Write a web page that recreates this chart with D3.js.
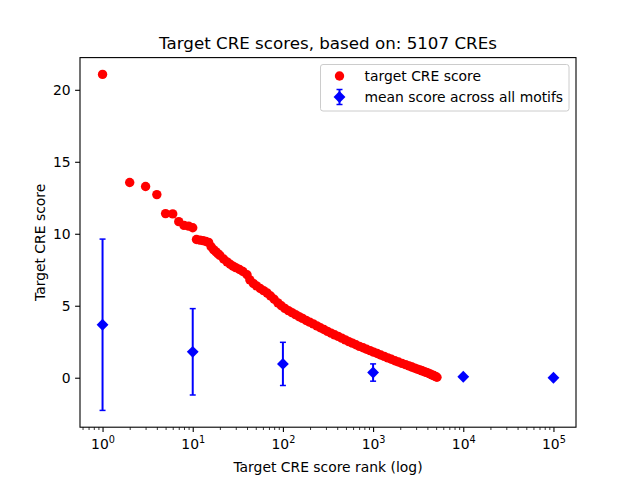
<!DOCTYPE html>
<html>
<head>
<meta charset="utf-8">
<script src="https://cdn.jsdelivr.net/npm/d3@7"></script>
<style>
  body { margin: 0; background: #fff; }
  text { font-family: "DejaVu Sans", sans-serif; fill: #000; }
</style>
</head>
<body>
<div id="chart"></div>
<script>
//--------------------------------------------------
// Datos
//--------------------------------------------------
const TITLE = "Target CRE scores, based on: 5107 CREs";
const X_LABEL = "Target CRE score rank (log)";
const Y_LABEL = "Target CRE score";

// rango de cada CRE y su score
const creRank = [
  1, 2, 3, 4, 5, 6, 7, 8, 9, 10,
  11, 12, 13, 14, 15, 16, 17, 18, 19, 20,
  22, 24, 26, 28, 30, 33, 36, 40, 43, 47,
  51, 56, 61, 67, 73, 80, 88, 96, 105, 115,
  126, 138, 151, 165, 181, 198, 217, 238, 260, 285,
  312, 342, 374, 410, 449, 492, 538, 589, 645, 706,
  773, 846, 926, 1014, 1110, 1215, 1330, 1456, 1594, 1745,
  1910, 2090, 2290, 2500, 2700, 2900, 3100, 3300, 3500, 3700,
  3900, 4100, 4300, 4500, 4700, 4900, 5107
];
const creScore = [
  21.07, 13.56, 13.28, 12.72, 11.40, 11.38, 10.84, 10.58, 10.53, 10.42,
  9.60, 9.56, 9.52, 9.46, 9.40, 9.10, 8.90, 8.76, 8.62, 8.50,
  8.25, 8.05, 7.88, 7.75, 7.65, 7.52, 7.38, 7.15, 6.80, 6.55,
  6.38, 6.20, 6.05, 5.88, 5.68, 5.45, 5.20, 5.00, 4.82, 4.66,
  4.52, 4.38, 4.24, 4.12, 3.98, 3.86, 3.74, 3.60, 3.47, 3.35,
  3.22, 3.10, 2.98, 2.87, 2.75, 2.63, 2.51, 2.40, 2.29, 2.18,
  2.08, 1.98, 1.88, 1.78, 1.68, 1.58, 1.48, 1.38, 1.28, 1.18,
  1.09, 1.00, 0.91, 0.82, 0.74, 0.67, 0.60, 0.54, 0.48, 0.42,
  0.37, 0.31, 0.26, 0.20, 0.15, 0.09, 0.03
];

// media por motivos, con su error
const meanRank = [1, 10, 100, 1000, 10000, 100000];
const meanScore = [3.68, 1.80, 0.96, 0.36, 0.07, 0.00];
const meanErr = [5.95, 3.00, 1.50, 0.60, 0.04, 0.00];

const xMajor = [1, 10, 100, 1000, 10000, 100000];
const yTicks = [0, 5, 10, 15, 20];
const legendLabels = ["target CRE score", "mean score across all motifs"];

//--------------------------------------------------
// Estilo
//--------------------------------------------------
const W = 640, H = 480;
const M = { left: 80, right: 576, top: 57.6, bottom: 427.2 };
const RED = "#ff0000";
const BLUE = "#0000ff";
const FS = 13.9;

const svg = d3.select("#chart").append("svg")
  .attr("width", W)
  .attr("height", H);

//--------------------------------------------------
// Escalas (márgenes del 5% como matplotlib)
//--------------------------------------------------
const lx0 = Math.log10(d3.min(meanRank.concat(creRank)));
const lx1 = Math.log10(d3.max(meanRank.concat(creRank)));
const lpad = (lx1 - lx0) * 0.05;
const x = d3.scaleLog()
  .domain([10 ** (lx0 - lpad), 10 ** (lx1 + lpad)])
  .range([M.left, M.right]);

const yLo = d3.min(meanScore.map((m, i) => m - meanErr[i]).concat(creScore));
const yHi = d3.max(meanScore.map((m, i) => m + meanErr[i]).concat(creScore));
const ypad = (yHi - yLo) * 0.05;
const y = d3.scaleLinear()
  .domain([yLo - ypad, yHi + ypad])
  .range([M.bottom, M.top]);

//--------------------------------------------------
// Ejes
//--------------------------------------------------
const xMinor = [];
xMajor.concat([1e6]).forEach(p => {
  for (let k = 2; k <= 9; k++) {
    const v = p / 10 * k;
    if (v >= x.domain()[0] && v <= x.domain()[1]) xMinor.push(v);
  }
});

const gx = svg.append("g").attr("transform", `translate(0,${M.bottom})`);
gx.call(d3.axisBottom(x).tickValues(xMinor).tickSize(2.8).tickFormat(""))
  .call(g => g.select(".domain").remove())
  .call(g => g.selectAll(".tick line").attr("stroke-width", 0.8));

const gxMaj = svg.append("g").attr("transform", `translate(0,${M.bottom})`);
gxMaj.call(d3.axisBottom(x).tickValues(xMajor).tickSize(4.9).tickFormat(""))
  .call(g => g.select(".domain").remove())
  .call(g => g.selectAll(".tick line").attr("stroke-width", 1.1));

gxMaj.selectAll(".tick").each(function (d) {
  const t = d3.select(this).append("text")
    .attr("y", 22)
    .attr("text-anchor", "middle")
    .attr("font-size", FS)
    .attr("fill", "#000");
  t.append("tspan").text("10");
  t.append("tspan")
    .attr("dy", -6)
    .attr("font-size", FS * 0.7)
    .text(Math.round(Math.log10(d)));
});

const gy = svg.append("g").attr("transform", `translate(${M.left},0)`);
gy.call(d3.axisLeft(y).tickValues(yTicks).tickSize(4.9).tickPadding(4.5))
  .call(g => g.select(".domain").remove())
  .call(g => g.selectAll(".tick line").attr("stroke-width", 1.1))
  .call(g => g.selectAll(".tick text")
    .attr("font-size", FS)
    .attr("font-family", "DejaVu Sans")
    .attr("fill", "#000"));

//--------------------------------------------------
// Marcas
//--------------------------------------------------
const plot = svg.append("g");

plot.append("g")
  .selectAll("circle")
  .data(creRank.map((r, i) => ({ r, s: creScore[i] })))
  .enter()
  .append("circle")
  .attr("cx", d => x(d.r))
  .attr("cy", d => y(d.s))
  .attr("r", 4.7)
  .attr("fill", RED);

const mean = meanRank.map((r, i) => ({ r, m: meanScore[i], e: meanErr[i] }));
const eb = plot.append("g").selectAll("g").data(mean).enter().append("g");

eb.filter(d => d.e > 0).append("line")
  .attr("x1", d => x(d.r)).attr("x2", d => x(d.r))
  .attr("y1", d => y(d.m - d.e)).attr("y2", d => y(d.m + d.e))
  .attr("stroke", BLUE).attr("stroke-width", 2);

eb.filter(d => d.e > 0.1).selectAll(".cap")
  .data(d => [d.m - d.e, d.m + d.e].map(v => ({ r: d.r, v })))
  .enter().append("line")
  .attr("x1", d => x(d.r) - 3).attr("x2", d => x(d.r) + 3)
  .attr("y1", d => y(d.v)).attr("y2", d => y(d.v))
  .attr("stroke", BLUE).attr("stroke-width", 1.5);

const diamond = d3.symbol().type(d3.symbolSquare).size(70);
eb.append("path")
  .attr("d", diamond)
  .attr("transform", d => `translate(${x(d.r)},${y(d.m)}) rotate(45)`)
  .attr("fill", BLUE);

// marco
svg.append("rect")
  .attr("x", M.left).attr("y", M.top)
  .attr("width", M.right - M.left).attr("height", M.bottom - M.top)
  .attr("fill", "none").attr("stroke", "#000").attr("stroke-width", 1.1);

//--------------------------------------------------
// Textos
//--------------------------------------------------
svg.append("text")
  .attr("x", (M.left + M.right) / 2).attr("y", 49)
  .attr("text-anchor", "middle").attr("font-size", 16.7)
  .text(TITLE);

svg.append("text")
  .attr("x", (M.left + M.right) / 2).attr("y", 472)
  .attr("text-anchor", "middle").attr("font-size", FS)
  .text(X_LABEL);

svg.append("text")
  .attr("transform", `translate(45,${(M.top + M.bottom) / 2}) rotate(-90)`)
  .attr("text-anchor", "middle").attr("font-size", FS)
  .text(Y_LABEL);

//--------------------------------------------------
// Leyenda
//--------------------------------------------------
const lg = svg.append("g").attr("transform", "translate(320.5,64.5)");
lg.append("rect")
  .attr("width", 248.5).attr("height", 46.5)
  .attr("rx", 2.5)
  .attr("fill", "#fff").attr("fill-opacity", 0.8)
  .attr("stroke", "#cccccc").attr("stroke-width", 1);

lg.append("circle")
  .attr("cx", 19).attr("cy", 11.5).attr("r", 4.7).attr("fill", RED);

lg.append("line")
  .attr("x1", 19).attr("x2", 19).attr("y1", 25).attr("y2", 40)
  .attr("stroke", BLUE).attr("stroke-width", 2);
[25, 40].forEach(v => lg.append("line")
  .attr("x1", 16).attr("x2", 22).attr("y1", v).attr("y2", v)
  .attr("stroke", BLUE).attr("stroke-width", 1.5));
lg.append("path")
  .attr("d", diamond)
  .attr("transform", "translate(19,32.5) rotate(45)")
  .attr("fill", BLUE);

lg.selectAll(".lbl")
  .data(legendLabels)
  .enter().append("text")
  .attr("x", 44).attr("y", (d, i) => 16.5 + i * 21)
  .attr("font-size", FS)
  .text(d => d);
</script>
</body>
</html>
